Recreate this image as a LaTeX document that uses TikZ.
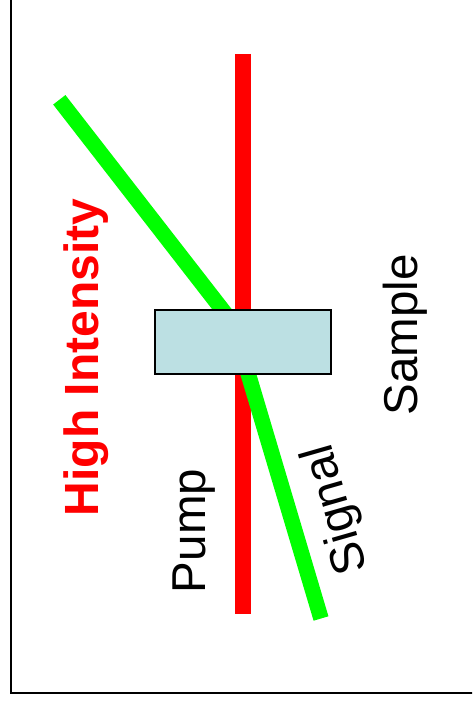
\documentclass[tikz,border=0pt]{standalone}
\usepackage{fontspec}
\setmainfont{Liberation Sans}
\definecolor{beamred}{RGB}{255,0,0}
\definecolor{beamgreen}{RGB}{0,255,0}
\definecolor{samplefill}{RGB}{188,224,227}
\tikzset{
  lbl/.style={inner sep=0pt, font=\fontsize{47.5}{50}\selectfont},
  pumpbeam/.style={draw=beamred, line width=16pt, line cap=butt},
  signalbeam/.style={draw=beamgreen, line width=15.5pt, line cap=butt},
  samplebox/.style={draw=black, line width=2pt, fill=samplefill, minimum width=176pt, minimum height=64pt, inner sep=0pt},
}
\begin{document}
\begin{tikzpicture}[x=1pt,y=-1pt]
\useasboundingbox (0,0) rectangle (472,708);
% frame
\coordinate (fTop) at (11,-5);
\coordinate (fCorner) at (11,693);
\coordinate (fRight) at (478,693);
\begin{scope}
\clip (0,0) rectangle (472,708);
\draw[line width=2.2pt] (fTop) -- (fCorner) -- (fRight);
\end{scope}
% pump beam
\coordinate (pTop) at (243,54);
\coordinate (pBot) at (243,614);
\draw[pumpbeam] (pTop) -- (pBot);
% signal beam
\coordinate (sA) at (59.3,99.8);
\coordinate (sB) at (238.1,330);
\coordinate (sC) at (242.6,355);
\coordinate (sD) at (321,618.5);
\draw[signalbeam] (sA) -- (sB);
\draw[signalbeam] (sC) -- (sD);
% sample
\node[samplebox] (sample) at (242.6,341.5) {};
% labels
\node[lbl, rotate=90, text=beamred, font=\fontsize{48}{50}\selectfont\bfseries] (hi) at (86.5,357.5) {High Intensity};
\node[lbl, rotate=90] (pump) at (194.2,531) {Pump};
\node[lbl, rotate=90] (samplelbl) at (405,335) {Sample};
\node[lbl, rotate=106] (signal) at (337,509) {Signal};
\end{tikzpicture}
\end{document}
